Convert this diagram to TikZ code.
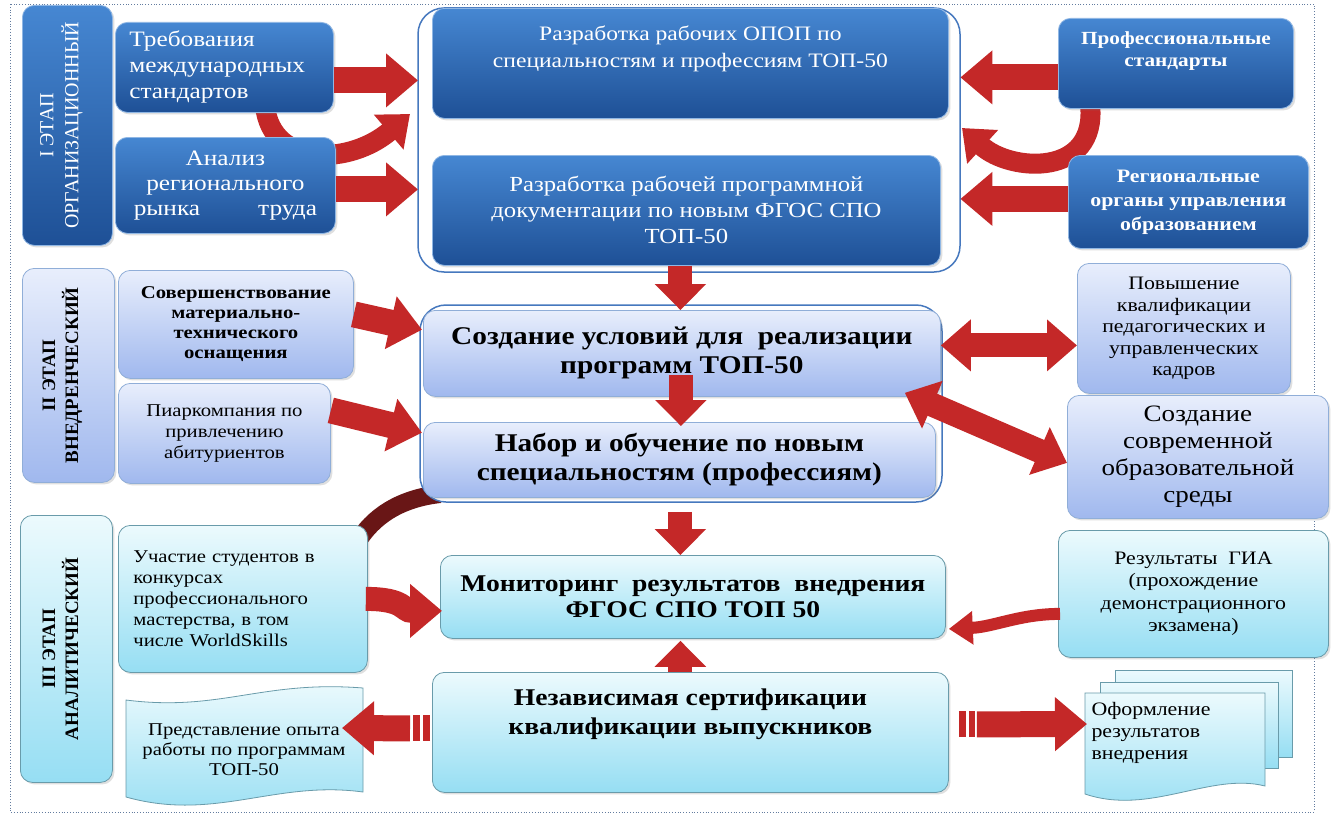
\documentclass[tikz,border=0pt]{standalone}
\usepackage{fontspec}
\setmainfont[FakeStretch=1.15]{Liberation Serif}
\newfontfamily\stagefont{Liberation Serif}
\usetikzlibrary{arrows.meta,shadows,calc}
\newcommand\myfs[2]{\fontsize{#1}{#2}\selectfont}
\definecolor{dbA}{RGB}{70,135,210}
\definecolor{dbB}{RGB}{30,80,150}
\definecolor{lvA}{RGB}{232,238,252}
\definecolor{lvB}{RGB}{160,184,238}
\definecolor{cyA}{RGB}{236,250,253}
\definecolor{cyB}{RGB}{150,222,243}
\definecolor{arr}{RGB}{196,40,40}
\definecolor{darr}{RGB}{105,22,22}
\definecolor{frm}{RGB}{70,120,190}
\begin{document}
\begin{tikzpicture}[x=1pt,y=-1pt,
 bx/.style={rounded corners=12pt, anchor=north west, inner sep=3pt, align=center, line width=0.8pt,
   drop shadow={opacity=0.25,shadow xshift=2pt,shadow yshift=-2pt}},
 dark/.style={bx, top color=dbA, bottom color=dbB, draw=dbA!60!white, text=white},
 lav/.style={bx, top color=lvA, bottom color=lvB, draw=frm!60!white, text=black},
 cya/.style={bx, top color=cyA, bottom color=cyB, draw=cyB!70!black, text=black},
 grp/.style={rounded corners=26pt, draw=frm, line width=1.5pt, fill=white},
 barrow/.style={draw=arr, line width=26pt, -{Triangle[width=52pt,length=32pt]}},
 varrow/.style={draw=arr, line width=24pt, -{Triangle[width=50pt,length=26pt]}},
 dbarrow/.style={draw=arr, line width=24pt, {Triangle[width=50pt,length=30pt]}-{Triangle[width=50pt,length=30pt]}},
 carrow/.style={draw=arr, line width=20pt, -{Triangle[width=44pt,length=28pt]}},
 stripe/.style={draw=arr, line width=26pt},
 docsh/.style={top color=cyA, bottom color=cyB, draw=cyB!70!black, line width=0.8pt},
]
\fill[white] (0,0) rectangle (1338,816);
\path[use as bounding box] (0,0) rectangle (1338,816);
\draw[dotted, line width=0.8pt, frm!50!gray] (10,4) rectangle (1314,812);

% ---------- curved arrows behind boxes ----------
\coordinate (c3s) at (265,106);
\coordinate (c3e) at (410,114);
\draw[carrow] (c3s) .. controls (272,168) and (350,165) .. (c3e);
\coordinate (c6s) at (1090,104);
\coordinate (c6e) at (962,128);
\draw[carrow] (c6s) .. controls (1098,178) and (1010,172) .. (c6e);
\coordinate (c16s) at (360,538);
\coordinate (c16e) at (440,494);
\draw[darr, line width=18pt] (c16s) .. controls (378,512) and (405,498) .. (c16e);

% ---------- stage boxes ----------
\node[dark, minimum width=90pt, minimum height=240pt] (st1) at (22,5) {};
\node[rotate=90, text=white, align=center, font=\stagefont\myfs{20}{25}] (st1t) at ($(st1.center)+(-6,0)$) {I ЭТАП\\ОРГАНИЗАЦИОННЫЙ};
\node[lav, minimum width=92pt, minimum height=214pt] (st2) at (22,268) {};
\node[rotate=90, align=center, font=\stagefont\bfseries\myfs{19}{23}] (st2t) at ($(st2.center)+(-6,0)$) {II ЭТАП\\ВНЕДРЕНЧЕСКИЙ};
\node[cya, minimum width=92pt, minimum height=267pt] (st3) at (20,515) {};
\node[rotate=90, align=center, font=\stagefont\bfseries\myfs{19}{23}] (st3t) at ($(st3.center)+(-6,0)$) {III ЭТАП\\АНАЛИТИЧЕСКИЙ};

% ---------- group frames ----------
\draw[grp] (418,8) rectangle (960,272);
\node[minimum width=542pt, minimum height=264pt, anchor=north west, inner sep=0pt] (g1) at (418,8) {};
\draw[grp] (420,305) rectangle (942,502);
\node[minimum width=522pt, minimum height=197pt, anchor=north west, inner sep=0pt] (g2) at (420,305) {};

% ---------- row I ----------
\node[dark, minimum width=218pt, minimum height=90pt, text width=190pt, inner xsep=14pt, align=left,
      font=\myfs{22}{26}] (b_treb) at (115,22) {Требования\\международных\\стандартов};
\node[dark, minimum width=220pt, minimum height=96pt, font=\myfs{22}{25}] (b_anal) at (115,137)
      {Анализ\\регионального\\рынка\hspace{58pt}труда};
\node[dark, minimum width=516pt, minimum height=110pt] (b_opop) at (432,8) {};
\node[text=white, align=center, font=\myfs{20.5}{27}] (t_opop) at ($(b_opop.north)+(0,41)$)
      {Разработка рабочих ОПОП по\\специальностям и профессиям ТОП-50};
\node[dark, minimum width=508pt, minimum height=110pt, font=\myfs{21.5}{26}] (b_doc) at (432,155)
      {Разработка рабочей программной\\документации по новым ФГОС СПО\\ТОП-50};
\node[dark, minimum width=235pt, minimum height=90pt] (b_prof) at (1058,18) {};
\node[text=white, align=center, font=\bfseries\myfs{18.5}{22}] (t_prof) at ($(b_prof.center)+(0,-12)$)
      {Профессиональные\\стандарты};
\node[dark, minimum width=240pt, minimum height=93pt, font=\bfseries\myfs{19}{24}] (b_reg) at (1068,155)
      {Региональные\\органы управления\\образованием};

% ---------- row II ----------
\node[lav, minimum width=517pt, minimum height=86pt, font=\bfseries\myfs{25.5}{29}] (b_usl) at (423,310)
      {Создание условий для \ реализации\\программ ТОП-50};
\node[lav, minimum width=512pt, minimum height=75pt, font=\bfseries\myfs{25.5}{29}] (b_nab) at (423,422)
      {Набор и обучение по новым\\специальностям (профессиям)};
\node[lav, minimum width=235pt, minimum height=108pt, font=\bfseries\myfs{18}{20}] (b_sov) at (118,270)
      {Совершенствование\\материально-\\технического\\оснащения};
\node[lav, minimum width=212pt, minimum height=100pt, font=\myfs{18}{21}] (b_piar) at (118,383)
      {Пиаркомпания по\\привлечению\\абитуриентов};
\node[lav, minimum width=213pt, minimum height=130pt, font=\myfs{19}{21.5}] (b_pov) at (1077,263)
      {Повышение\\квалификации\\педагогических и\\управленческих\\кадров};
\node[lav, minimum width=261pt, minimum height=123pt, font=\myfs{23.5}{27}] (b_sreda) at (1067,395)
      {Создание\\современной\\образовательной\\среды};

% ---------- row III ----------
\node[cya, minimum width=505pt, minimum height=83pt, font=\bfseries\myfs{24}{26}] (b_mon) at (440,555)
      {Мониторинг\ \ результатов\ \ внедрения\\ФГОС СПО ТОП 50};
\node[cya, minimum width=516pt, minimum height=120pt] (b_nez) at (432,672) {};
\node[align=center, font=\bfseries\myfs{24}{29}] (t_nez) at ($(b_nez.center)+(0,-18)$)
      {Независимая сертификации\\квалификации выпускников};
\node[cya, minimum width=249pt, minimum height=147pt, text width=219pt, inner xsep=15pt, align=left,
      font=\myfs{18}{21}] (b_uch) at (118,525)
      {Участие студентов в\\конкурсах\\профессионального\\мастерства, в том\\числе WorldSkills};
\node[cya, minimum width=270pt, minimum height=127pt, font=\myfs{19}{22.5}] (b_gia) at (1058,530)
      {Результаты\ \ ГИА\\(прохождение\\демонстрационного\\экзамена)};

% tape shape
\path[docsh] (126,700) .. controls (220,712) and (262,680) .. (363,688) -- (363,792)
      .. controls (275,780) and (215,822) .. (126,797) -- cycle;
\node[align=center, font=\myfs{18}{20}] (b_pred) at (244,750)
      {Представление опыта\\работы по программам\\ТОП-50};
% multidocument shape
\path[docsh] (1115,670) -- (1292,670) -- (1292,757) -- (1115,757) -- cycle;
\path[docsh] (1100,682) -- (1278,682) -- (1278,768) -- (1100,768) -- cycle;
\path[docsh] (1085,693) -- (1265,693) -- (1265,786) .. controls (1210,772) and (1150,816) .. (1085,794) -- cycle;
\node[align=left, anchor=west, font=\myfs{19}{22}] (b_ofo) at (1088,733)
      {Оформление\\результатов\\внедрения};

% ---------- straight arrows ----------
\draw[barrow] ($(b_treb.east)+(0,13)$) coordinate (a1) -- (g1.west |- a1);
\draw[barrow] ($(b_anal.east)+(0,4)$) coordinate (a2) -- (g1.west |- a2);
\draw[barrow] ($(b_prof.west)+(0,14)$) coordinate (a4) -- (g1.east |- a4);
\draw[barrow] ($(b_reg.west)+(0,-3)$) coordinate (a5) -- (g1.east |- a5);

\draw[varrow] ($(b_doc.south)+(-6,0)$) coordinate (v1) -- (v1 |- b_usl.north);
\draw[varrow] ($(b_usl.south)+(-1,-22)$) coordinate (v2) -- ($(v2 |- b_nab.north)+(0,4)$);
\draw[varrow] ($(b_nab.south)+(1,14)$) coordinate (v3) -- (v3 |- b_mon.north);
\draw[varrow] ($(b_nez.north)+(-10,0)$) coordinate (v4) -- ($(v4 |- b_mon.south)+(0,2)$);

\coordinate (a11s) at ($(b_sov.east)+(0,-10)$);
\coordinate (a11e) at ($(g2.west)+(2,-74)$);
\draw[barrow] (a11s) -- (a11e);
\coordinate (a12s) at ($(b_piar.east)+(0,-23)$);
\coordinate (a12e) at ($(g2.west)+(2,29)$);
\draw[barrow] (a12s) -- (a12e);

\draw[dbarrow] ($(b_usl.east)+(0,-8)$) coordinate (a13) -- (b_pov.west |- a13);
\coordinate (a14s) at ($(b_usl.south east)+(-36,-4)$);
\coordinate (a14e) at ($(b_sreda.west)+(0,6)$);
\draw[dbarrow] (a14s) -- (a14e);

\coordinate (a15s) at ($(b_uch.east)+(-2,0)$);
\coordinate (a15e) at ($(b_mon.west)+(2,14)$);
\draw[barrow, line width=24pt] (a15s) .. controls ($(a15s)+(40,0)$) and ($(a15e)+(-40,0)$) .. (a15e);

\coordinate (a17s) at ($(b_gia.west)+(2,20)$);
\coordinate (a17e) at ($(b_mon.east)+(3,32)$);
\draw[draw=arr, line width=12pt, -{Triangle[width=32pt,length=24pt]}] (a17s) .. controls ($(a17s)+(-40,0)$) and ($(a17e)+(45,-2)$) .. (a17e);

% striped arrows
\draw[stripe] ($(b_nez.west)+(-2,-4)$) -- ++(-7,0);
\draw[stripe] ($(b_nez.west)+(-12,-4)$) -- ++(-7,0);
\coordinate (predtip) at (342,728);
\draw[barrow] ($(b_nez.west)+(-22,-4)$) -- (predtip);
\draw[stripe] ($(b_nez.east)+(10,-8)$) -- ++(7,0);
\draw[stripe] ($(b_nez.east)+(20,-8)$) -- ++(6,0);
\coordinate (ofotip) at (1087,724);
\draw[barrow] ($(b_nez.east)+(28,-8)$) -- (ofotip);
\end{tikzpicture}
\end{document}
